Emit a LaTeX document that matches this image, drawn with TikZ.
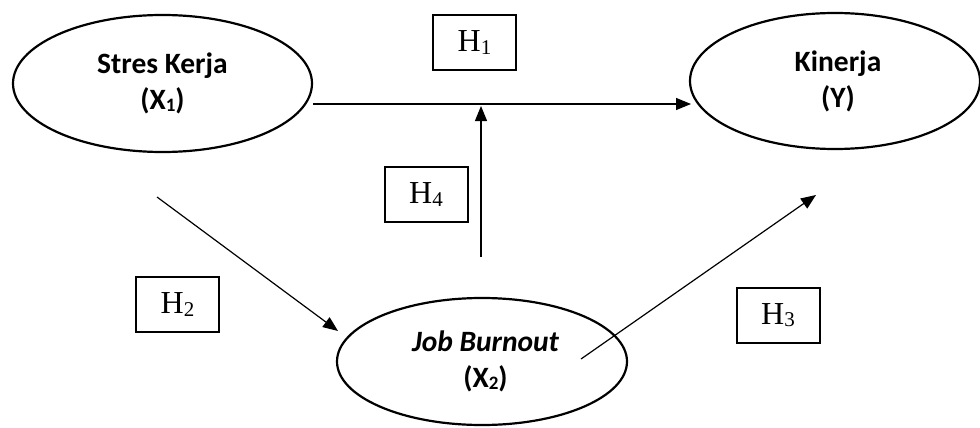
\documentclass[tikz,border=0pt]{standalone}
\usepackage{fontspec}
\setmainfont{Liberation Serif}
\newfontfamily\calibfont{Carlito}
\usetikzlibrary{arrows.meta,shapes.geometric}
\newcommand\csub[1]{\raisebox{-2pt}{\fontsize{19}{19}\selectfont #1}}
\newcommand\tsub[1]{\raisebox{-2.5pt}{\fontsize{21}{21}\selectfont #1}}
\begin{document}
\begin{tikzpicture}[x=1pt,y=-1pt,
  var/.style={draw, line width=2.2pt, ellipse, inner sep=0pt, align=center,
    font=\calibfont\bfseries\fontsize{29.5}{36}\selectfont},
  hyp/.style={draw, line width=2pt, rectangle, minimum width=83pt, minimum height=55pt,
    inner sep=0pt, font=\fontsize{32}{32}\selectfont},
  arr/.style={line width=1.2pt, -{Triangle[length=15pt,width=12pt]}}]
\useasboundingbox (0,0) rectangle (980,428);
% variables
\node[var, minimum width=299pt, minimum height=137pt] (sk) at (162.5,83.5) {Stres Kerja\\(X\csub{1})};
\node[var, minimum width=290pt, minimum height=136pt] (ki) at (835,81) {\hspace*{6pt}Kinerja\\\hspace*{6pt}(Y)};
\node[var, minimum width=290pt, minimum height=127pt] (jb) at (482,361.5) {\hspace*{7pt}{\itshape Job Burnout}\\\hspace*{7pt}(X\csub{2})};
% hypothesis boxes
\node[hyp] (h1) at (474.5,42.5) {H\tsub{1}};
\node[hyp] (h4) at (426,194.5) {H\tsub{4}};
\node[hyp] (h2) at (177.5,304.5) {H\tsub{2}};
\node[hyp] (h3) at (778,315) {H\tsub{3}};
% connector ends
\coordinate (a1s) at (313,104);
\coordinate (a1e) at (691,104);
\coordinate (a4s) at (481,257);
\coordinate (a4e) at (481,106);
\coordinate (a2s) at (157,197);
\coordinate (a2e) at (338,331);
\coordinate (a3s) at (581,359);
\coordinate (a3e) at (816,195);
\draw[arr] (a1s) -- (a1e);
\draw[arr] (a4s) -- (a4e);
\draw[arr] (a2s) -- (a2e);
\draw[arr] (a3s) -- (a3e);
\end{tikzpicture}
\end{document}
